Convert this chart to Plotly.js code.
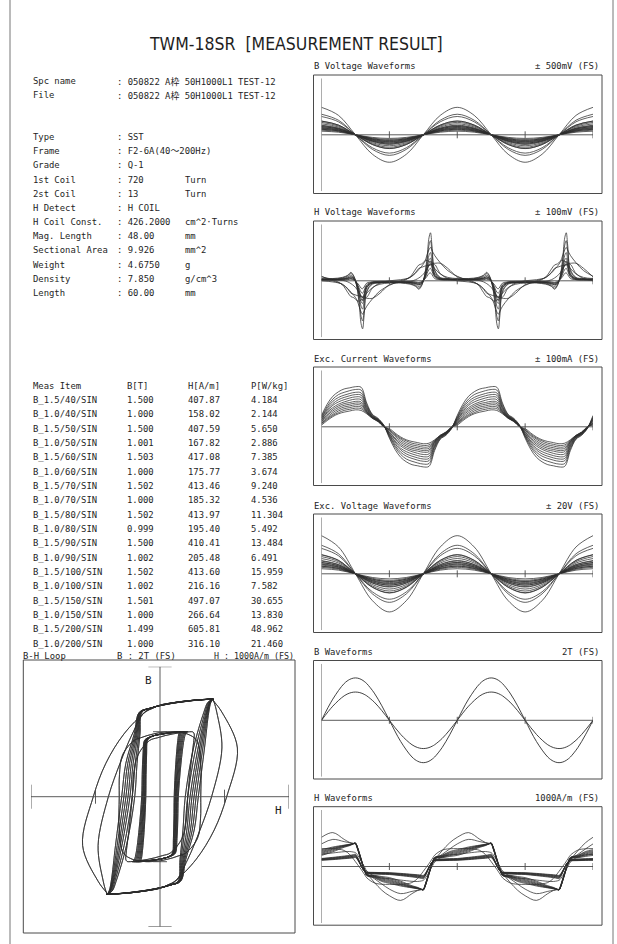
<!DOCTYPE html>
<html><head><meta charset="utf-8">
<script src="https://cdn.plot.ly/plotly-3.0.1.min.js"></script>
<style>html,body{margin:0;padding:0;background:#fff}#c{width:617px;height:944px}</style>
</head><body><div id="c"></div>
<script>
// ---------------- text data ----------------
const specLabels=['Spc name','File','Type','Frame','Grade','1st Coil','2st Coil','H Detect','H Coil Const.','Mag. Length','Sectional Area','Weight','Density','Length'];
const specValues=['050822 A枠 50H1000L1 TEST-12','050822 A枠 50H1000L1 TEST-12','SST','F2-6A(40～200Hz)','Q-1','720','13','H COIL','426.2000','48.00','9.926','4.6750','7.850','60.00'];
const specUnits=['','','','','','Turn','Turn','','cm^2·Turns','mm','mm^2','g','g/cm^3','mm'];
const tableHead=['Meas Item','B[T]','H[A/m]','P[W/kg]'];
const measItems=['B_1.5/40/SIN','B_1.0/40/SIN','B_1.5/50/SIN','B_1.0/50/SIN','B_1.5/60/SIN','B_1.0/60/SIN','B_1.5/70/SIN','B_1.0/70/SIN','B_1.5/80/SIN','B_1.0/80/SIN','B_1.5/90/SIN','B_1.0/90/SIN','B_1.5/100/SIN','B_1.0/100/SIN','B_1.5/150/SIN','B_1.0/150/SIN','B_1.5/200/SIN','B_1.0/200/SIN'];
const measB=['1.500','1.000','1.500','1.001','1.503','1.000','1.502','1.000','1.502','0.999','1.500','1.002','1.502','1.002','1.501','1.000','1.499','1.000'];
const measH=['407.87','158.02','407.59','167.82','417.08','175.77','413.46','185.32','413.97','195.40','410.41','205.48','413.60','216.16','497.07','266.64','605.81','316.10'];
const measP=['4.184','2.144','5.650','2.886','7.385','3.674','9.240','4.536','11.304','5.492','13.484','6.491','15.959','7.582','30.655','13.830','48.962','21.460'];
const panelTitles=['B Voltage Waveforms','H Voltage Waveforms','Exc. Current Waveforms','Exc. Voltage Waveforms','B Waveforms','H Waveforms'];
const panelScales=['± 500mV (FS)','± 100mV (FS)','± 100mA (FS)','± 20V (FS)','2T (FS)','1000A/m (FS)'];
const panelFS=[500,100,100,20,2,1000];

// ---------------- phase grids (degrees, 2 periods) ----------------
const phaseS=[0,45,90,135,180,225,270,315,360,405,450,495,540,585,630,675,720];
const phaseI=[0,15,30,45,60,75,90,105,120,135,150,165,180,195,210,225,240,255,270,285,300,315,330,345,360,375,390,405,420,435,450,465,480,495,510,525,540,555,570,585,600,615,630,645,660,675,690,705,720];
const phaseG=[0,30,60,75,85,90,95,100,105,110,115,120,140,160,180,210,240,255,265,270,275,280,285,290,295,300,320,340,360,390,420,435,445,450,455,460,465,470,475,480,500,520,540,570,600,615,625,630,635,640,645,650,655,660,680,700,720];
const phaseV=[0,30,55,70,78,86,94,100,105,109,113,120,135,155,180,210,235,250,258,266,274,280,285,289,293,300,315,335,360,390,415,430,438,446,454,460,465,469,473,480,495,515,540,570,595,610,618,626,634,640,645,649,653,660,675,695,720];

// ---------------- B voltage waveforms [mV] ----------------
const bv15_200=[243,172,0,-172,-243,-172,0,172,243,172,0,-172,-243,-172,0,172,243];
const bv15_150=[182,129,0,-129,-182,-129,0,129,182,129,0,-129,-182,-129,0,129,182];
const bv15_100=[122,86,0,-86,-122,-86,0,86,122,86,0,-86,-122,-86,0,86,122];
const bv15_90=[110,78,0,-78,-110,-78,0,78,110,78,0,-78,-110,-78,0,78,110];
const bv15_80=[97,69,0,-69,-97,-69,0,69,97,69,0,-69,-97,-69,0,69,97];
const bv15_70=[85,60,0,-60,-85,-60,0,60,85,60,0,-60,-85,-60,0,60,85];
const bv15_60=[73,52,0,-52,-73,-52,0,52,73,52,0,-52,-73,-52,0,52,73];
const bv15_50=[61,43,0,-43,-61,-43,0,43,61,43,0,-43,-61,-43,0,43,61];
const bv15_40=[49,35,0,-35,-49,-35,0,35,49,35,0,-35,-49,-35,0,35,49];
const bv10_200=[162,115,0,-115,-162,-115,0,115,162,115,0,-115,-162,-115,0,115,162];
const bv10_150=[121,86,0,-86,-121,-86,0,86,121,86,0,-86,-121,-86,0,86,121];
const bv10_100=[81,57,0,-57,-81,-57,0,57,81,57,0,-57,-81,-57,0,57,81];
const bv10_90=[73,52,0,-52,-73,-52,0,52,73,52,0,-52,-73,-52,0,52,73];
const bv10_80=[65,46,0,-46,-65,-46,0,46,65,46,0,-46,-65,-46,0,46,65];
const bv10_70=[57,40,0,-40,-57,-40,0,40,57,40,0,-40,-57,-40,0,40,57];
const bv10_60=[49,35,0,-35,-49,-35,0,35,49,35,0,-35,-49,-35,0,35,49];
const bv10_50=[41,29,0,-29,-41,-29,0,29,41,29,0,-29,-41,-29,0,29,41];
const bv10_40=[32,23,0,-23,-32,-23,0,23,32,23,0,-23,-32,-23,0,23,32];

// ---------------- H voltage waveforms [mV] ----------------
const hv1=[3,4,6,10,15,8,-12,-42,-76,-85,-62,-20,-6,-4,-3,-4,-6,-10,-15,-8,12,42,76,85,62,20,6,4,3,4,6,10,15,8,-12,-42,-76,-85,-62,-20,-6,-4,-3,-4,-6,-10,-15,-8,12,42,76,85,62,20,6,4,3];
const hv2=[3,3,5,9,13,7,-10,-35,-63,-71,-52,-17,-5,-3,-3,-3,-5,-9,-13,-7,10,35,63,71,52,17,5,3,3,3,5,9,13,7,-10,-35,-63,-71,-52,-17,-5,-3,-3,-3,-5,-9,-13,-7,10,35,63,71,52,17,5,3,3];
const hv3=[2,3,4,7,10,5,-8,-26,-45,-50,-37,-12,-4,-3,-2,-3,-4,-7,-10,-5,8,26,45,50,37,12,4,3,2,3,4,7,10,5,-8,-26,-45,-50,-37,-12,-4,-3,-2,-3,-4,-7,-10,-5,8,26,45,50,37,12,4,3,2];
const hv4=[2,2,3,5,7,4,-5,-18,-31,-35,-26,-9,-3,-2,-2,-2,-3,-5,-7,-4,5,18,31,35,26,9,3,2,2,2,3,5,7,4,-5,-18,-31,-35,-26,-9,-3,-2,-2,-2,-3,-5,-7,-4,5,18,31,35,26,9,3,2,2];
const hv5=[8,0,-6,-14,-20,-26,-34,-46,-55,-59,-54,-45,-32,-18,-8,0,6,14,20,26,34,46,55,59,54,45,32,18,8,0,-6,-14,-20,-26,-34,-46,-55,-59,-54,-45,-32,-18,-8,0,6,14,20,26,34,46,55,59,54,45,32,18,8];
const hv6=[7,2,-7,-21,-28,-30,-35,-36,-34,-33,-31,-31,-31,-22,-7,-2,7,21,28,30,35,36,34,33,31,31,31,22,7,2,-7,-21,-28,-30,-35,-36,-34,-33,-31,-31,-31,-22,-7,-2,7,21,28,30,35,36,34,33,31,31,31,22,7];
const hv7=[2,2,3,5,7,4,-8,-24,-37,-40,-30,-12,-4,-3,-2,-2,-3,-5,-7,-4,8,24,37,40,30,12,4,3,2,2,3,5,7,4,-8,-24,-37,-40,-30,-12,-4,-3,-2,-2,-3,-5,-7,-4,8,24,37,40,30,12,4,3,2];
const hv8=[2,2,3,4,5,3,-6,-18,-28,-30,-23,-9,-3,-2,-2,-2,-3,-4,-5,-3,6,18,28,30,23,9,3,2,2,2,3,4,5,3,-6,-18,-28,-30,-23,-9,-3,-2,-2,-2,-3,-4,-5,-3,6,18,28,30,23,9,3,2,2];
const hv9=[1,1,2,3,4,2,-4,-13,-20,-22,-17,-7,-2,-2,-1,-1,-2,-3,-4,-2,4,13,20,22,17,7,2,2,1,1,2,3,4,2,-4,-13,-20,-22,-17,-7,-2,-2,-1,-1,-2,-3,-4,-2,4,13,20,22,17,7,2,2,1];
const hv10=[1,1,1,2,3,1,-3,-8,-13,-14,-11,-4,-2,-1,-1,-1,-1,-2,-3,-1,3,8,13,14,11,4,2,1,1,1,1,2,3,1,-3,-8,-13,-14,-11,-4,-2,-1,-1,-1,-1,-2,-3,-1,3,8,13,14,11,4,2,1,1];
const hv11=[4,3,1,-2,-5,-9,-15,-22,-27,-30,-28,-22,-12,-6,-4,-3,-1,2,5,9,15,22,27,30,28,22,12,6,4,3,1,-2,-5,-9,-15,-22,-27,-30,-28,-22,-12,-6,-4,-3,-1,2,5,9,15,22,27,30,28,22,12,6,4];
const hv12=[0,-2,-6,-15,-22,-24,-26,-27,-27,-28,-29,-29,-13,-4,0,2,6,15,22,24,26,27,27,28,29,29,13,4,0,-2,-6,-15,-22,-24,-26,-27,-27,-28,-29,-29,-13,-4,0,2,6,15,22,24,26,27,27,28,29,29,13,4,0];

// ---------------- Excitation current waveforms [mA] ----------------
const ic1=[20,40,54,62,67,69,71,70,42,22,15,3,-20,-40,-54,-62,-67,-69,-71,-70,-42,-22,-15,-3,20,40,54,62,67,69,71,70,42,22,15,3,-20,-40,-54,-62,-67,-69,-71,-70,-42,-22,-15,-3,20];
const ic2=[18,36,49,57,61,64,66,65,39,21,14,3,-18,-36,-49,-57,-61,-64,-66,-65,-39,-21,-14,-3,18,36,49,57,61,64,66,65,39,21,14,3,-18,-36,-49,-57,-61,-64,-66,-65,-39,-21,-14,-3,18];
const ic3=[16,33,45,52,56,59,61,60,36,20,13,2,-16,-33,-45,-52,-56,-59,-61,-60,-36,-20,-13,-2,16,33,45,52,56,59,61,60,36,20,13,2,-16,-33,-45,-52,-56,-59,-61,-60,-36,-20,-13,-2,16];
const ic4=[15,30,41,48,52,55,57,56,34,19,13,2,-15,-30,-41,-48,-52,-55,-57,-56,-34,-19,-13,-2,15,30,41,48,52,55,57,56,34,19,13,2,-15,-30,-41,-48,-52,-55,-57,-56,-34,-19,-13,-2,15];
const ic5=[13,27,38,44,48,51,53,52,32,18,12,2,-13,-27,-38,-44,-48,-51,-53,-52,-32,-18,-12,-2,13,27,38,44,48,51,53,52,32,18,12,2,-13,-27,-38,-44,-48,-51,-53,-52,-32,-18,-12,-2,13];
const ic6=[12,25,34,40,44,47,49,48,30,18,12,2,-12,-25,-34,-40,-44,-47,-49,-48,-30,-18,-12,-2,12,25,34,40,44,47,49,48,30,18,12,2,-12,-25,-34,-40,-44,-47,-49,-48,-30,-18,-12,-2,12];
const ic7=[10,22,31,37,41,43,45,44,28,17,11,1,-10,-22,-31,-37,-41,-43,-45,-44,-28,-17,-11,-1,10,22,31,37,41,43,45,44,28,17,11,1,-10,-22,-31,-37,-41,-43,-45,-44,-28,-17,-11,-1,10];
const ic8=[9,20,28,34,38,40,42,41,27,17,11,1,-9,-20,-28,-34,-38,-40,-42,-41,-27,-17,-11,-1,9,20,28,34,38,40,42,41,27,17,11,1,-9,-20,-28,-34,-38,-40,-42,-41,-27,-17,-11,-1,9];
const ic9=[7,17,25,31,35,37,39,38,26,16,10,1,-7,-17,-25,-31,-35,-37,-39,-38,-26,-16,-10,-1,7,17,25,31,35,37,39,38,26,16,10,1,-7,-17,-25,-31,-35,-37,-39,-38,-26,-16,-10,-1,7];
const ic10=[6,15,22,28,32,34,36,35,25,16,10,1,-6,-15,-22,-28,-32,-34,-36,-35,-25,-16,-10,-1,6,15,22,28,32,34,36,35,25,16,10,1,-6,-15,-22,-28,-32,-34,-36,-35,-25,-16,-10,-1,6];
const ic11=[5,13,20,25,29,31,33,32,24,15,10,1,-5,-13,-20,-25,-29,-31,-33,-32,-24,-15,-10,-1,5,13,20,25,29,31,33,32,24,15,10,1,-5,-13,-20,-25,-29,-31,-33,-32,-24,-15,-10,-1,5];
const ic12=[3,11,18,23,26,28,30,29,23,15,9,0,-3,-11,-18,-23,-26,-28,-30,-29,-23,-15,-9,0,3,11,18,23,26,28,30,29,23,15,9,0,-3,-11,-18,-23,-26,-28,-30,-29,-23,-15,-9,0,3];

// ---------------- Excitation voltage waveforms [V] ----------------
const ev15_200=[13.5,9.5,0,-9.5,-13.5,-9.5,0,9.5,13.5,9.5,0,-9.5,-13.5,-9.5,0,9.5,13.5];
const ev15_150=[10.1,7.1,0,-7.1,-10.1,-7.1,0,7.1,10.1,7.1,0,-7.1,-10.1,-7.1,0,7.1,10.1];
const ev15_100=[6.7,4.7,0,-4.7,-6.7,-4.7,0,4.7,6.7,4.7,0,-4.7,-6.7,-4.7,0,4.7,6.7];
const ev15_90=[6.1,4.3,0,-4.3,-6.1,-4.3,0,4.3,6.1,4.3,0,-4.3,-6.1,-4.3,0,4.3,6.1];
const ev15_80=[5.4,3.8,0,-3.8,-5.4,-3.8,0,3.8,5.4,3.8,0,-3.8,-5.4,-3.8,0,3.8,5.4];
const ev15_70=[4.7,3.3,0,-3.3,-4.7,-3.3,0,3.3,4.7,3.3,0,-3.3,-4.7,-3.3,0,3.3,4.7];
const ev15_60=[4.0,2.8,0,-2.8,-4.0,-2.8,0,2.8,4.0,2.8,0,-2.8,-4.0,-2.8,0,2.8,4.0];
const ev15_50=[3.4,2.4,0,-2.4,-3.4,-2.4,0,2.4,3.4,2.4,0,-2.4,-3.4,-2.4,0,2.4,3.4];
const ev15_40=[2.7,1.9,0,-1.9,-2.7,-1.9,0,1.9,2.7,1.9,0,-1.9,-2.7,-1.9,0,1.9,2.7];
const ev10_200=[9.0,6.4,0,-6.4,-9.0,-6.4,0,6.4,9.0,6.4,0,-6.4,-9.0,-6.4,0,6.4,9.0];
const ev10_150=[6.8,4.8,0,-4.8,-6.8,-4.8,0,4.8,6.8,4.8,0,-4.8,-6.8,-4.8,0,4.8,6.8];
const ev10_100=[4.5,3.2,0,-3.2,-4.5,-3.2,0,3.2,4.5,3.2,0,-3.2,-4.5,-3.2,0,3.2,4.5];
const ev10_90=[4.0,2.9,0,-2.9,-4.0,-2.9,0,2.9,4.0,2.9,0,-2.9,-4.0,-2.9,0,2.9,4.0];
const ev10_80=[3.6,2.5,0,-2.5,-3.6,-2.5,0,2.5,3.6,2.5,0,-2.5,-3.6,-2.5,0,2.5,3.6];
const ev10_70=[3.1,2.2,0,-2.2,-3.1,-2.2,0,2.2,3.1,2.2,0,-2.2,-3.1,-2.2,0,2.2,3.1];
const ev10_60=[2.7,1.9,0,-1.9,-2.7,-1.9,0,1.9,2.7,1.9,0,-1.9,-2.7,-1.9,0,1.9,2.7];
const ev10_50=[2.3,1.6,0,-1.6,-2.3,-1.6,0,1.6,2.3,1.6,0,-1.6,-2.3,-1.6,0,1.6,2.3];
const ev10_40=[1.8,1.3,0,-1.3,-1.8,-1.3,0,1.3,1.8,1.3,0,-1.3,-1.8,-1.3,0,1.3,1.8];

// ---------------- B waveforms [T] ----------------
const b15=[0,0.75,1.3,1.449,1.494,1.5,1.494,1.477,1.449,1.41,1.359,1.3,0.964,0.513,0,-0.75,-1.3,-1.449,-1.494,-1.5,-1.494,-1.477,-1.449,-1.41,-1.359,-1.3,-0.964,-0.513,0,0.75,1.3,1.449,1.494,1.5,1.494,1.477,1.449,1.41,1.359,1.3,0.964,0.513,0,-0.75,-1.3,-1.449,-1.494,-1.5,-1.494,-1.477,-1.449,-1.41,-1.359,-1.3,-0.964,-0.513,0];
const b10=[0,0.5,0.866,0.966,0.996,1,0.996,0.985,0.966,0.94,0.906,0.866,0.643,0.342,0,-0.5,-0.866,-0.966,-0.996,-1,-0.996,-0.985,-0.966,-0.94,-0.906,-0.866,-0.643,-0.342,0,0.5,0.866,0.966,0.996,1,0.996,0.985,0.966,0.94,0.906,0.866,0.643,0.342,0,-0.5,-0.866,-0.966,-0.996,-1,-0.996,-0.985,-0.966,-0.94,-0.906,-0.866,-0.643,-0.342,0];

// ---------------- H waveforms [A/m] ----------------
const h15_40=[196,260,340,370,400,408,330,220,110,10,-80,-140,-155,-178,-196,-260,-340,-370,-400,-408,-330,-220,-110,-10,80,140,155,178,196,260,340,370,400,408,330,220,110,10,-80,-140,-155,-178,-196,-260,-340,-370,-400,-408,-330,-220,-110,-10,80,140,155,178,196];
const h15_50=[215,278,350,375,402,408,335,225,115,12,-80,-145,-162,-192,-215,-278,-350,-375,-402,-408,-335,-225,-115,-12,80,145,162,192,215,278,350,375,402,408,335,225,115,12,-80,-145,-162,-192,-215,-278,-350,-375,-402,-408,-335,-225,-115,-12,80,145,162,192,215];
const h15_60=[233,295,358,382,406,417,340,230,120,15,-80,-150,-170,-208,-233,-295,-358,-382,-406,-417,-340,-230,-120,-15,80,150,170,208,233,295,358,382,406,417,340,230,120,15,-80,-150,-170,-208,-233,-295,-358,-382,-406,-417,-340,-230,-120,-15,80,150,170,208,233];
const h15_70=[248,308,363,385,406,413,342,235,125,18,-80,-152,-178,-222,-248,-308,-363,-385,-406,-413,-342,-235,-125,-18,80,152,178,222,248,308,363,385,406,413,342,235,125,18,-80,-152,-178,-222,-248,-308,-363,-385,-406,-413,-342,-235,-125,-18,80,152,178,222,248];
const h15_80=[264,320,368,388,406,414,345,240,130,20,-80,-155,-185,-236,-264,-320,-368,-388,-406,-414,-345,-240,-130,-20,80,155,185,236,264,320,368,388,406,414,345,240,130,20,-80,-155,-185,-236,-264,-320,-368,-388,-406,-414,-345,-240,-130,-20,80,155,185,236,264];
const h15_90=[280,332,373,390,407,410,348,245,135,22,-80,-158,-192,-250,-280,-332,-373,-390,-407,-410,-348,-245,-135,-22,80,158,192,250,280,332,373,390,407,410,348,245,135,22,-80,-158,-192,-250,-280,-332,-373,-390,-407,-410,-348,-245,-135,-22,80,158,192,250,280];
const h15_100=[297,345,378,394,408,414,350,250,140,25,-80,-160,-200,-265,-297,-345,-378,-394,-408,-414,-350,-250,-140,-25,80,160,200,265,297,345,378,394,408,414,350,250,140,25,-80,-160,-200,-265,-297,-345,-378,-394,-408,-414,-350,-250,-140,-25,80,160,200,265,297];
const h15_150=[400,480,440,420,410,405,320,220,110,5,-60,-120,-215,-310,-400,-480,-440,-420,-410,-405,-320,-220,-110,-5,60,120,215,310,400,480,440,420,410,405,320,220,110,5,-60,-120,-215,-310,-400,-480,-440,-420,-410,-405,-320,-220,-110,-5,60,120,215,310,400];
const h15_200=[517,600,480,425,405,400,320,220,110,0,-60,-115,-280,-420,-517,-600,-480,-425,-405,-400,-320,-220,-110,0,60,115,280,420,517,600,480,425,405,400,320,220,110,0,-60,-115,-280,-420,-517,-600,-480,-425,-405,-400,-320,-220,-110,0,60,115,280,420,517];
const h10_40=[110,122,138,146,154,158,125,70,10,-45,-80,-97,-104,-108,-110,-122,-138,-146,-154,-158,-125,-70,-10,45,80,97,104,108,110,122,138,146,154,158,125,70,10,-45,-80,-97,-104,-108,-110,-122,-138,-146,-154,-158,-125,-70,-10,45,80,97,104,108,110];
const h10_50=[115,128,145,154,162,168,132,75,12,-45,-82,-101,-108,-112,-115,-128,-145,-154,-162,-168,-132,-75,-12,45,82,101,108,112,115,128,145,154,162,168,132,75,12,-45,-82,-101,-108,-112,-115,-128,-145,-154,-162,-168,-132,-75,-12,45,82,101,108,112,115];
const h10_60=[120,135,152,162,171,176,140,80,15,-45,-85,-105,-113,-117,-120,-135,-152,-162,-171,-176,-140,-80,-15,45,85,105,113,117,120,135,152,162,171,176,140,80,15,-45,-85,-105,-113,-117,-120,-135,-152,-162,-171,-176,-140,-80,-15,45,85,105,113,117,120];
const h10_70=[125,141,160,171,180,185,148,85,18,-45,-88,-108,-117,-122,-125,-141,-160,-171,-180,-185,-148,-85,-18,45,88,108,117,122,125,141,160,171,180,185,148,85,18,-45,-88,-108,-117,-122,-125,-141,-160,-171,-180,-185,-148,-85,-18,45,88,108,117,122,125];
const h10_80=[130,148,168,180,190,195,155,90,20,-45,-90,-112,-122,-127,-130,-148,-168,-180,-190,-195,-155,-90,-20,45,90,112,122,127,130,148,168,180,190,195,155,90,20,-45,-90,-112,-122,-127,-130,-148,-168,-180,-190,-195,-155,-90,-20,45,90,112,122,127,130];
const h10_90=[136,155,176,189,200,205,162,95,22,-45,-92,-116,-127,-132,-136,-155,-176,-189,-200,-205,-162,-95,-22,45,92,116,127,132,136,155,176,189,200,205,162,95,22,-45,-92,-116,-127,-132,-136,-155,-176,-189,-200,-205,-162,-95,-22,45,92,116,127,132,136];
const h10_100=[142,162,185,198,210,216,170,100,25,-45,-95,-120,-132,-138,-142,-162,-185,-198,-210,-216,-170,-100,-25,45,95,120,132,138,142,162,185,198,210,216,170,100,25,-45,-95,-120,-132,-138,-142,-162,-185,-198,-210,-216,-170,-100,-25,45,95,120,132,138,142];
const h10_150=[215,240,262,265,255,245,210,160,100,40,-20,-80,-170,-205,-215,-240,-262,-265,-255,-245,-210,-160,-100,-40,20,80,170,205,215,240,262,265,255,245,210,160,100,40,-20,-80,-170,-205,-215,-240,-262,-265,-255,-245,-210,-160,-100,-40,20,80,170,205,215];
const h10_200=[316,316,284,210,130,85,40,-5,-50,-100,-150,-200,-290,-314,-316,-316,-284,-210,-130,-85,-40,5,50,100,150,200,290,314,316,316,284,210,130,85,40,-5,-50,-100,-150,-200,-290,-314,-316,-316,-284,-210,-130,-85,-40,5,50,100,150,200,290,314,316];

// ---------------- series groups ----------------
const bVoltSeries=[bv15_40,bv15_50,bv15_60,bv15_70,bv15_80,bv15_90,bv15_100,bv15_150,bv15_200,bv10_40,bv10_50,bv10_60,bv10_70,bv10_80,bv10_90,bv10_100,bv10_150,bv10_200];
const hVoltSeries=[hv1,hv2,hv3,hv4,hv5,hv6,hv7,hv8,hv9,hv10,hv11,hv12];
const excCurSeries=[ic1,ic2,ic3,ic4,ic5,ic6,ic7,ic8,ic9,ic10,ic11,ic12];
const excVoltSeries=[ev15_40,ev15_50,ev15_60,ev15_70,ev15_80,ev15_90,ev15_100,ev15_150,ev15_200,ev10_40,ev10_50,ev10_60,ev10_70,ev10_80,ev10_90,ev10_100,ev10_150,ev10_200];
const hWave15=[h15_40,h15_50,h15_60,h15_70,h15_80,h15_90,h15_100,h15_150,h15_200];
const hWave10=[h10_40,h10_50,h10_60,h10_70,h10_80,h10_90,h10_100,h10_150,h10_200];

// ---------------- layout ----------------
const W=617,HH=944;
const fx=x=>x/W, fy=y=>1-y/HH;
const mono='DejaVu Sans Mono, Liberation Mono, Noto Sans CJK JP, monospace';
const ink='#1e1e1e', lineC='#2e2e2e', frameC='#4a4a4a';
const traces=[];
const sfx=n=>n===1?'':String(n);
function addLine(x,y,n,w){
  traces.push({type:'scatter',mode:'lines',x:x,y:y,xaxis:'x'+sfx(n),yaxis:'y'+sfx(n),
    line:{color:lineC,width:w||0.75,shape:'spline',smoothing:1},hoverinfo:'skip'});
}
const layout={width:W,height:HH,margin:{l:0,r:0,t:0,b:0},paper_bgcolor:'#fff',plot_bgcolor:'rgba(0,0,0,0)',
  showlegend:false,shapes:[],annotations:[]};
function txt(x,y,s,size,anchor,fam){
  layout.annotations.push({x:fx(x),y:fy(y),xref:'paper',yref:'paper',text:s,showarrow:false,
    xanchor:anchor||'left',yanchor:'middle',borderpad:0,borderwidth:0,
    font:{family:fam||mono,size:size||8.9,color:ink}});
}
function pline(x0,y0,x1,y1,c,w){layout.shapes.push({type:'line',xref:'paper',yref:'paper',x0:fx(x0),y0:fy(y0),x1:fx(x1),y1:fy(y1),line:{color:c||frameC,width:w||1}});}
function prect(x0,y0,x1,y1){layout.shapes.push({type:'rect',xref:'paper',yref:'paper',x0:fx(x0),y0:fy(y0),x1:fx(x1),y1:fy(y1),line:{color:frameC,width:1},fillcolor:'rgba(0,0,0,0)'});}
function dline(n,x0,y0,x1,y1,w){layout.shapes.push({type:'line',xref:'x'+sfx(n),yref:'y'+sfx(n),x0:x0,y0:y0,x1:x1,y1:y1,line:{color:frameC,width:w||0.9}});}

// page edges
pline(10,0,10,944,'#777',1);
pline(613,0,613,944,'#777',1);

// title
txt(296,44,'TWM-18SR  [MEASUREMENT RESULT]',17.5,'center','Liberation Sans Narrow, DejaVu Sans Condensed, Liberation Sans, sans-serif');

// spec block
specLabels.forEach((s,i)=>{
  const y = i<2 ? 81+14*i : 137+14.18*(i-2);
  txt(33,y,s);
  txt(116.5,y,': '+specValues[i]);
  if(specUnits[i]) txt(185,y,specUnits[i]);
});
// table
const colX=[33,127,188,250.5];
tableHead.forEach((s,j)=>txt(colX[j],385.5,s));
measItems.forEach((s,i)=>{
  const y=385.5+14.35*(i+1);
  txt(colX[0],y,s); txt(colX[1],y,measB[i]); txt(colX[2],y,measH[i]); txt(colX[3],y,measP[i]);
});

// right waveform panels
const panelTop=[75,221,367,514,660.5,806.7];
const X0=321.5, X1=593, HALF=56.5;
for(let i=0;i<6;i++){
  const n=i+1, top=panelTop[i], z=top+59.8, fs=panelFS[i];
  layout['xaxis'+sfx(n)]={domain:[fx(X0),fx(X1)],range:[0,720],visible:false,fixedrange:true,anchor:'y'+sfx(n)};
  layout['yaxis'+sfx(n)]={domain:[fy(z+HALF),fy(z-HALF)],range:[-fs,fs],visible:false,fixedrange:true,anchor:'x'+sfx(n)};
  prect(313.5,top,602,top+118.5);
  txt(313.5,top-8.5,panelTitles[i]);
  txt(598.5,top-8.5,panelScales[i],8.9,'right');
  dline(n,0,-fs,0,fs);
  dline(n,0,0,720,0);
  const tk=fs*3.5/HALF;
  [180,360,540,720].forEach(p=>dline(n,p,-tk,p,tk));
}
bVoltSeries.forEach(s=>addLine(phaseS,s,1));
hVoltSeries.forEach(s=>addLine(phaseV,s,2));
excCurSeries.forEach(s=>addLine(phaseI,s,3));
excVoltSeries.forEach(s=>addLine(phaseS,s,4));
addLine(phaseG,b15,5,0.9); addLine(phaseG,b10,5,0.9);
hWave15.concat(hWave10).forEach(s=>addLine(phaseG,s,6));

// B-H loop panel
layout.xaxis7={domain:[fx(31),fx(289)],range:[-1000,1000],visible:false,fixedrange:true,anchor:'y7'};
layout.yaxis7={domain:[fy(926.7),fy(666.7)],range:[-2,2],visible:false,fixedrange:true,anchor:'x7'};
prect(23.3,660,295,933);
txt(23,655.5,'B-H Loop');
txt(117,655.5,'B : 2T (FS)');
txt(214,655.5,'H : 1000A/m (FS)',8.3);
txt(148.5,680,'B',11,'center');
txt(278.5,810,'H',11,'center');
dline(7,0,-2,0,2); dline(7,-90,2,90,2); dline(7,-90,-2,90,-2);
dline(7,-54,1,54,1); dline(7,-54,-1,54,-1);
dline(7,-1000,0,1000,0); dline(7,-1000,-0.185,-1000,0.185); dline(7,1000,-0.185,1000,0.185);
dline(7,-500,-0.108,-500,0.108); dline(7,500,-0.108,500,0.108);
hWave15.forEach(h=>addLine(h,b15,7,0.75));
hWave10.forEach(h=>addLine(h,b10,7,0.75));

Plotly.newPlot('c',traces,layout,{staticPlot:true,displayModeBar:false});
</script></body></html>
